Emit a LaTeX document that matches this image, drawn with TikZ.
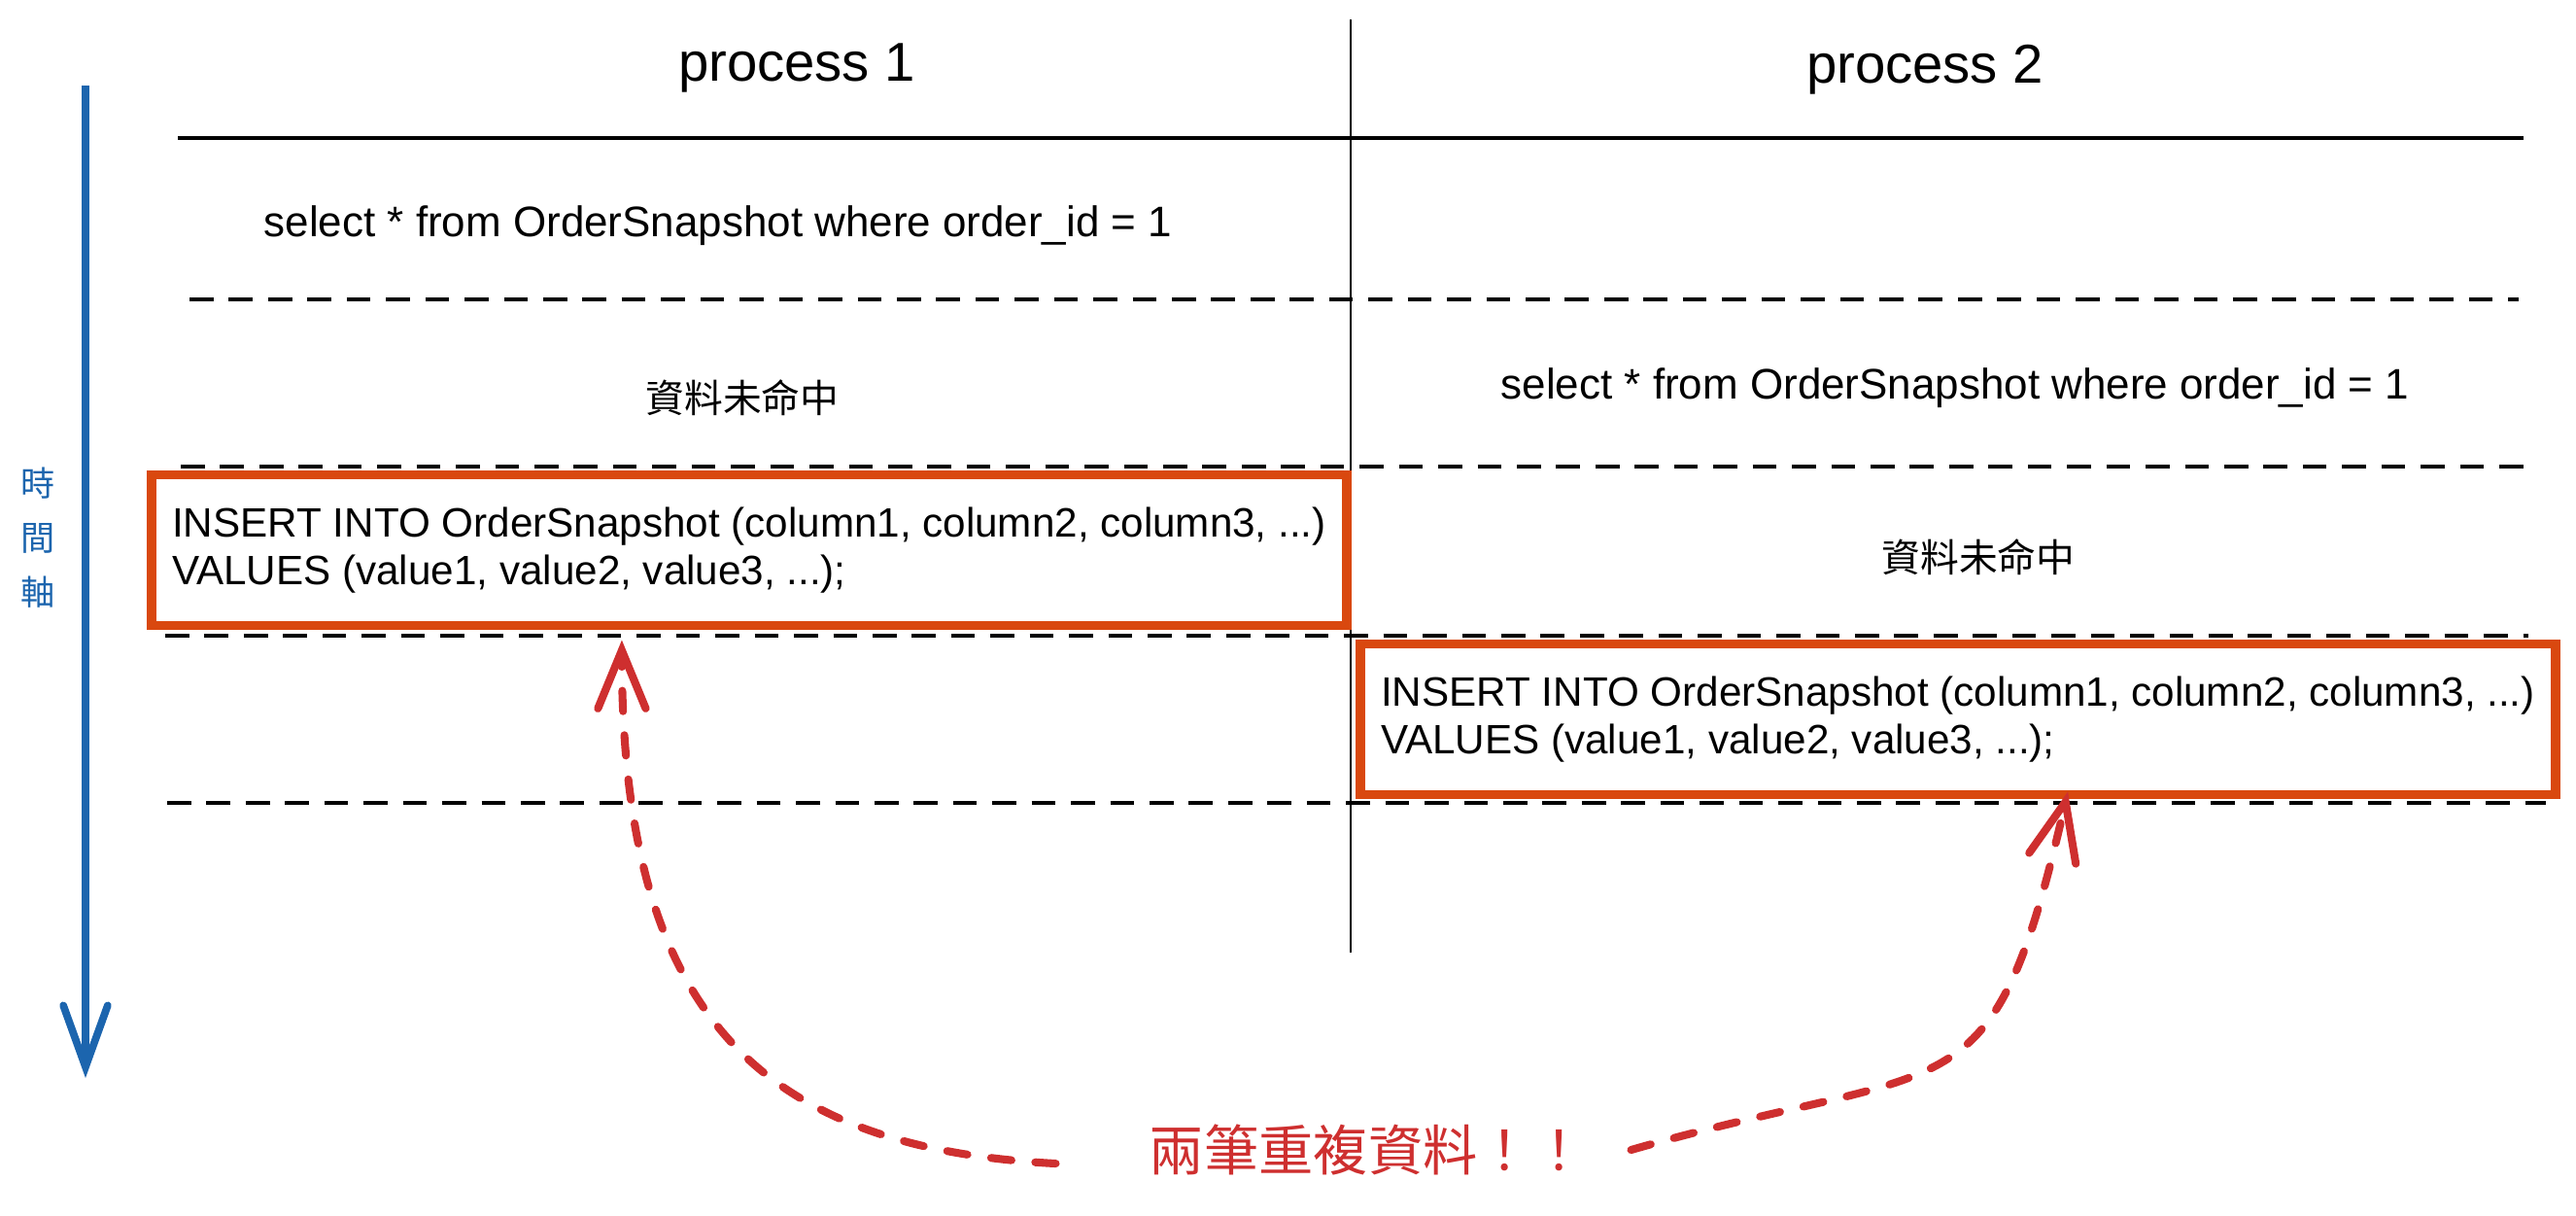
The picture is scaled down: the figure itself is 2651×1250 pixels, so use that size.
\documentclass[tikz,border=0pt]{standalone}
\usepackage{fontspec}
\setmainfont{Liberation Sans}
\newfontfamily\cjk{Noto Sans CJK TC}
\usetikzlibrary{arrows.meta,positioning}
\definecolor{boxred}{HTML}{D9480F}
\definecolor{dupred}{HTML}{CE2F2F}
\definecolor{axisblue}{HTML}{1C65AE}
\begin{document}
\begin{tikzpicture}[x=0.01cm, y=-0.01cm,
  proctitle/.style={font=\fontsize{16}{19}\selectfont},
  sqltext/.style={font=\fontsize{12.5}{15}\selectfont},
  misstext/.style={font=\cjk\fontsize{11.3}{13}\selectfont},
  insbox/.style={draw=boxred, line width=2.8pt, align=left, minimum width=12.29cm, minimum height=1.55cm, font=\fontsize{12}{14}\selectfont},
  rowline/.style={dash pattern=on 7pt off 4.5pt, line width=0.9pt},
  dupline/.style={draw=dupred, line width=2.3pt, dash pattern=on 6pt off 7pt, line cap=round, -{Straight Barb[length=17pt, width=14pt, line cap=round]}},
]
  \useasboundingbox (0,0) rectangle (2651,1250);

  % lanes
  \node (p1) [proctitle] at (820,70) {process 1};
  \node (p2) [proctitle] at (1981,72) {process 2};
  \draw [line width=1.1pt] (183,142) -- (2597,142);
  \draw [line width=0.5pt] (1390,20) -- (1390,980);
  \foreach \y/\xa/\xb in {308/195/2592, 480/186/2606, 654/170/2602, 826/172/2620}
    \draw [rowline] (\xa,\y) -- (\xb,\y);

  % process 1
  \node (sel1) [sqltext] at (739,232) {select * from OrderSnapshot where order\_id = 1};
  \node (miss1) [misstext] at (764,409) {資料未命中};
  \node (ins1) [insbox] at (771,566) {INSERT INTO OrderSnapshot (column1, column2, column3, ...)\\VALUES (value1, value2, value3, ...);};

  % process 2
  \node (sel2) [sqltext] at (2012,399) {select * from OrderSnapshot where order\_id = 1};
  \node (miss2) [misstext] at (2036,573) {資料未命中};
  \node (ins2) [insbox] at (2015,740) {INSERT INTO OrderSnapshot (column1, column2, column3, ...)\\VALUES (value1, value2, value3, ...);};

  % time axis
  \coordinate (ttop) at (88,88);
  \coordinate (tbot) at (88,1109);
  \draw [axisblue, line width=2.2pt, -{Straight Barb[length=18pt, width=13pt, line cap=round]}] (ttop) -- (tbot);
  \node (taxis) [text=axisblue, font=\cjk\fontsize{10}{16}\selectfont, align=center] at (39,553) {時\\間\\軸};

  % duplicates
  \node (dup) [text=dupred, font=\cjk\fontsize{16}{19}\selectfont] at (1408,1183) {兩筆重複資料！！};
  \draw [dupline] ([xshift=-0.84cm, yshift=-0.14cm]dup.west) to [out=177, in=270, out distance=3.1cm, in distance=3.8cm] ([xshift=-1.31cm, yshift=-0.1cm]ins1.south);
  \draw [dupline] ([xshift=0.33cm]dup.east) to [out=16, in=257, out distance=3.5cm, in distance=3.5cm] ([xshift=1.13cm, yshift=0.08cm]ins2.south);
\end{tikzpicture}
\end{document}
